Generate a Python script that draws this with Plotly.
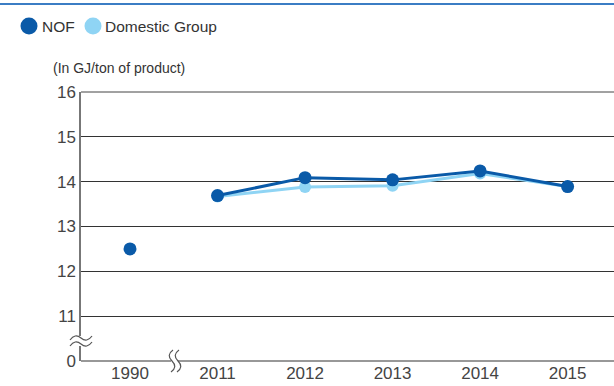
import plotly.graph_objects as go

years = ["1990", "2011", "2012", "2013", "2014", "2015"]
nof = [12.5, 13.69, 14.09, 14.04, 14.24, 13.89]
domestic_years = ["2011", "2012", "2013", "2014", "2015"]
domestic = [13.67, 13.88, 13.91, 14.18, 13.89]
ytick_vals = [10, 11, 12, 13, 14, 15, 16]
ytick_text = ["0", "11", "12", "13", "14", "15", "16"]

NOF_C = "#0a5aa8"
DOM_C = "#8fd4f4"

W, H = 614, 386
L, R, T, B = 81, 614, 92, 361


def px(x):
    return (x - L) / (R - L)


def py(y):
    return (B - y) / (B - T)


def path(cmds):
    out = []
    for c in cmds:
        if isinstance(c, str):
            out.append(c)
        else:
            out.append(f"{px(c[0]):.5f},{py(c[1]):.5f}")
    return " ".join(out)


xpos = {y: i for i, y in enumerate(years)}

fig = go.Figure()
fig.add_trace(go.Scatter(
    x=[xpos[y] for y in domestic_years], y=domestic, mode="lines+markers",
    line=dict(color=DOM_C, width=3), marker=dict(size=12, color=DOM_C),
    name="Domestic Group", showlegend=False, cliponaxis=False))
fig.add_trace(go.Scatter(
    x=[xpos[y] for y in years[1:]], y=nof[1:], mode="lines+markers",
    line=dict(color=NOF_C, width=3), marker=dict(size=13, color=NOF_C),
    name="NOF", showlegend=False, cliponaxis=False))
fig.add_trace(go.Scatter(
    x=[xpos[years[0]]], y=[nof[0]], mode="markers",
    marker=dict(size=13, color=NOF_C), showlegend=False, cliponaxis=False))

shapes = []
# x-axis baseline ("0") and top gridline ("16")
shapes.append(dict(type="line", xref="paper", yref="paper", x0=0, x1=1, y0=0, y1=0,
                   line=dict(color="#333", width=1.2)))
shapes.append(dict(type="line", xref="paper", yref="paper", x0=0, x1=1, y0=1, y1=1,
                   line=dict(color="#444", width=1)))
# top blue rule
shapes.append(dict(type="line", xref="paper", yref="paper", x0=px(0), x1=px(614),
                   y0=py(4), y1=py(4), line=dict(color="#3b7dc4", width=2)))
# y-axis break
shapes.append(dict(type="rect", xref="paper", yref="paper", x0=px(78), x1=px(84),
                   y0=py(346), y1=py(336), fillcolor="white", line=dict(width=0)))
for dy in (0, 6):
    shapes.append(dict(type="path", xref="paper", yref="paper",
                       path=path(["M", (70, 340 + dy), "Q", (75, 333 + dy), (81, 338 + dy),
                                  "T", (92, 336 + dy)]),
                       line=dict(color="#555", width=1.2)))
# x-axis break
shapes.append(dict(type="rect", xref="paper", yref="paper", x0=px(171), x1=px(178),
                   y0=py(364), y1=py(358), fillcolor="white", line=dict(width=0)))
for dx in (0, 6):
    shapes.append(dict(type="path", xref="paper", yref="paper",
                       path=path(["M", (173 + dx, 350), "Q", (166 + dx, 355), (172 + dx, 361),
                                  "T", (171 + dx, 372)]),
                       line=dict(color="#555", width=1.2)))
# legend circles
for cx, col in ((29, NOF_C), (93, DOM_C)):
    shapes.append(dict(type="circle", xref="paper", yref="paper",
                       x0=px(cx - 8.5), x1=px(cx + 8.5), y0=py(26 + 8.5), y1=py(26 - 8.5),
                       fillcolor=col, line=dict(width=0)))

annotations = [
    dict(text="NOF", xref="paper", yref="paper", x=px(40), y=py(26), xanchor="left",
         yanchor="middle", showarrow=False, font=dict(size=15.5, color="#333")),
    dict(text="Domestic Group", xref="paper", yref="paper", x=px(103), y=py(26),
         xanchor="left", yanchor="middle", showarrow=False, font=dict(size=15.5, color="#333")),
    dict(text="(In GJ/ton of product)", xref="paper", yref="paper", x=px(51), y=py(68),
         xanchor="left", yanchor="middle", showarrow=False, font=dict(size=14, color="#333")),
]

fig.update_layout(
    width=W, height=H, margin=dict(l=L, r=W - R, t=T, b=H - B, autoexpand=False),
    paper_bgcolor="white", plot_bgcolor="white",
    font=dict(family="Liberation Sans, Arial, sans-serif", color="#444", size=17),
    shapes=shapes, annotations=annotations,
    xaxis=dict(range=[-0.56, 5.53], tickvals=list(range(len(years))), ticktext=years,
               showgrid=False, zeroline=False, showline=False, ticks="",
               tickfont=dict(size=17, color="#444")),
    yaxis=dict(range=[10, 16], tickvals=ytick_vals, ticktext=ytick_text,
               showgrid=True, gridcolor="#333", gridwidth=1, zeroline=False,
               showline=True, linecolor="#777", linewidth=1.5, ticks="",
               tickfont=dict(size=17, color="#444")),
)

fig.write_html("out.html", config={"displayModeBar": False},
               post_script="document.body.style.margin='0px';")
